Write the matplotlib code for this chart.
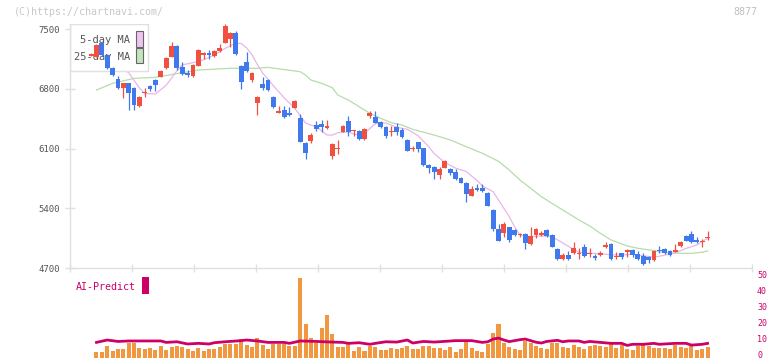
import numpy as np
import matplotlib
matplotlib.use("Agg")
import matplotlib.pyplot as plt
import matplotlib.transforms as mtransforms
from matplotlib.patches import Rectangle

plt.rcParams['font.family'] = ['DejaVu Sans Mono']

# ---- daily candles (day -1 .. 114) ----
opens = [7184, 7176, 7340, 7195, 7040, 6910, 6813, 6864, 6805, 6600, 6752, 6833, 6903, 6941, 7040, 7176,
         7301, 7058, 6980, 6950, 7070, 7192, 7215, 7183, 7242, 7340, 7379, 7457, 7066, 7117, 6903, 6637,
         6856, 6903, 6707, 6520, 6551, 6520, 6578, 6461, 6168, 6192, 6375, 6387, 6344, 6016, 6090, 6297,
         6422, 6305, 6309, 6211, 6481, 6465, 6414, 6356, 6293, 6356, 6317, 6200, 6090, 6172, 6102, 5907,
         5888, 5790, 5876, 5860, 5829, 5758, 5700, 5547, 5641, 5641, 5582, 5380, 5157, 5107, 5177, 5146,
         5091, 5099, 4981, 5087, 5087, 5146, 5087, 4923, 4806, 4853, 4872, 4868, 4950, 4868, 4837, 4853,
         4943, 4981, 4829, 4872, 4892, 4911, 4861, 4841, 4833, 4794, 4907, 4919, 4900, 4892, 4962, 5075,
         5099, 5028, 5001, 5056]
closes = [7204, 7313, 7195, 7040, 6960, 6805, 6864, 6747, 6610, 6700, 6760, 6794, 6844, 7008, 7157, 7301,
          7040, 6973, 6965, 7078, 7254, 7223, 7192, 7242, 7274, 7535, 7457, 7203, 6883, 7008, 6988, 6707,
          6813, 6785, 6590, 6539, 6473, 6492, 6657, 6180, 6044, 6258, 6329, 6355, 6364, 6153, 6098, 6367,
          6297, 6313, 6211, 6328, 6520, 6403, 6348, 6250, 6301, 6297, 6238, 6075, 6098, 6090, 5907, 5876,
          5822, 5860, 5954, 5817, 5743, 5700, 5567, 5626, 5614, 5602, 5430, 5157, 5020, 5216, 5028, 5087,
          5099, 4990, 5075, 5157, 5114, 5075, 4950, 4806, 4853, 4806, 4939, 4876, 4841, 4876, 4814, 4880,
          4970, 4806, 4837, 4825, 4911, 4853, 4806, 4747, 4794, 4900, 4899, 4872, 4853, 4911, 5009, 5020,
          5001, 5001, 5017, 5064]
highs = [7215, 7325, 7350, 7205, 7050, 6950, 6870, 6870, 6815, 6710, 6805, 6850, 6910, 7020, 7170, 7351,
         7310, 7117, 7020, 7085, 7262, 7230, 7250, 7260, 7325, 7559, 7470, 7480, 7080, 7234, 6995, 6720,
         6941, 6910, 6715, 6598, 6598, 6590, 6665, 6504, 6175, 6278, 6420, 6434, 6434, 6168, 6200, 6375,
         6481, 6320, 6318, 6335, 6539, 6539, 6420, 6362, 6360, 6400, 6340, 6208, 6130, 6180, 6110, 5915,
         5895, 5880, 5962, 5868, 5860, 5766, 5708, 5660, 5680, 5680, 5590, 5388, 5210, 5243, 5185, 5160,
         5110, 5107, 5177, 5170, 5130, 5160, 5095, 4931, 4880, 4903, 5000, 4930, 4980, 4930, 4860, 4900,
         5010, 4989, 4890, 4880, 4918, 4918, 4900, 4870, 4840, 4908, 4960, 4930, 4908, 4981, 5020, 5083,
         5130, 5060, 5040, 5134]
lows = [7180, 7168, 7187, 7032, 6950, 6797, 6688, 6551, 6551, 6592, 6700, 6770, 6770, 6933, 7032, 7168,
        7020, 6965, 6940, 6942, 7062, 7145, 7145, 7175, 7234, 7332, 7285, 7195, 6794, 7000, 6880, 6493,
        6780, 6777, 6570, 6512, 6460, 6480, 6570, 6172, 5973, 6168, 6310, 6297, 6330, 5973, 6032, 6289,
        6246, 6250, 6203, 6203, 6461, 6395, 6340, 6227, 6250, 6260, 6220, 6067, 6070, 6060, 5899, 5809,
        5743, 5743, 5868, 5790, 5735, 5692, 5477, 5539, 5600, 5590, 5422, 5135, 5012, 5060, 5010, 5075,
        5060, 4923, 4970, 5050, 5070, 5067, 4942, 4790, 4790, 4798, 4860, 4810, 4833, 4825, 4790, 4845,
        4935, 4798, 4810, 4800, 4825, 4830, 4798, 4739, 4760, 4780, 4870, 4860, 4845, 4884, 4950, 5012,
        4993, 4993, 4950, 5030]

# ---- moving averages (day index, price) ----
ma5_day = [0, 3, 5, 6, 8, 9, 11, 13, 15, 16, 18, 20, 22, 24, 26, 27, 28, 29, 30, 31, 33, 35, 37, 39, 40,
           41, 43, 44, 45, 47, 48, 49, 50, 52, 54, 56, 58, 60, 62, 63, 65, 67, 69, 71, 72, 74, 76, 77,
           78, 79, 81, 83, 85, 86, 88, 90, 92, 94, 96, 98, 100, 102, 104, 106, 108, 110, 112, 113, 114]
ma5 = [7250, 7120, 7030, 6990, 6810, 6745, 6740, 6840, 7010, 7080, 7106, 7140, 7195, 7274, 7335, 7330,
       7280, 7200, 7085, 6985, 6835, 6695, 6570, 6400, 6375, 6356, 6258, 6258, 6285, 6295, 6270, 6258,
       6280, 6390, 6400, 6348, 6325, 6250, 6120, 6040, 5935, 5870, 5830, 5725, 5660, 5594, 5400, 5302,
       5184, 5087, 5067, 5075, 5067, 5030, 4955, 4885, 4872, 4870, 4853, 4853, 4861, 4843, 4827, 4850,
       4878, 4930, 4970, 5010, 5048]
ma25_day = [0, 3, 7, 11, 16, 19, 25, 30, 32, 35, 38, 39, 40, 42, 44, 45, 47, 49, 51, 53, 55, 57, 59, 63,
            66, 69, 72, 75, 77, 79, 81, 83, 86, 88, 90, 92, 94, 96, 99, 101, 104, 106, 109, 111, 113, 114]
ma25 = [6785, 6864, 6922, 6934, 6988, 7020, 7040, 7040, 7051, 7025, 7000, 6961, 6903, 6864, 6813, 6727,
        6668, 6590, 6512, 6454, 6403, 6375, 6325, 6258, 6200, 6121, 6044, 5950, 5848, 5731, 5634, 5536,
        5418, 5341, 5263, 5193, 5107, 5028, 4958, 4931, 4903, 4880, 4872, 4872, 4885, 4900]

# ---- lower panel (day 0 .. 114) ----
volume = [3.4, 3.4, 7.2, 4.1, 5.3, 5.3, 9.1, 9.1, 6.0, 5.3,
          6.0, 4.7, 7.2, 4.7, 6.6, 7.2, 6.6, 5.3, 4.1, 6.0,
          4.1, 5.3, 5.3, 6.6, 8.5, 8.5, 8.5, 11.6, 7.9, 6.6,
          12.2, 7.9, 5.3, 8.5, 8.5, 8.5, 7.2, 7.2, 50.0, 21.0,
          12.2, 9.1, 18.5, 26.7, 14.7, 6.6, 6.6, 8.5, 4.1, 6.6,
          4.1, 7.2, 6.6, 4.7, 4.7, 6.0, 5.3, 6.0, 7.2, 5.3,
          5.3, 7.2, 7.2, 6.0, 6.0, 4.7, 6.6, 3.4, 5.3, 9.7,
          6.0, 4.1, 3.4, 8.5, 15.4, 21.0, 9.1, 6.6, 5.3, 4.7,
          10.3, 9.1, 7.2, 6.0, 5.3, 9.1, 9.1, 6.6, 6.0, 7.9,
          6.6, 5.3, 7.2, 7.9, 7.2, 6.6, 8.5, 6.0, 7.9, 5.3,
          4.7, 7.2, 7.9, 7.2, 6.0, 6.0, 6.0, 5.3, 7.9, 6.6,
          6.0, 7.2, 4.7, 5.3, 6.6]
ai_day = [0, 2, 4, 6, 12, 13, 15, 17, 19, 21, 22, 24, 27, 28, 30, 32, 35, 36, 38, 41, 44, 46, 47, 49, 51,
          52, 54, 56, 58, 59, 61, 63, 67, 70, 72, 73, 74, 75, 76, 77, 79, 80, 81, 82, 83, 84, 86, 87, 88,
          90, 91, 92, 94, 96, 98, 99, 100, 102, 104, 105, 108, 110, 111, 113, 114]
ai_predict = [9.5, 11.0, 10.1, 10.4, 10.4, 9.5, 9.9, 8.5, 8.9, 8.5, 9.3, 9.9, 10.6, 11.0, 10.4, 9.5, 9.5,
              8.9, 10.4, 10.1, 9.7, 9.5, 8.9, 9.3, 8.3, 8.9, 9.9, 9.7, 11.0, 9.1, 10.1, 9.7, 10.6, 10.6,
              9.5, 9.9, 11.6, 12.2, 11.0, 10.0, 11.2, 11.6, 10.6, 9.6, 9.1, 10.1, 10.8, 9.9, 10.4, 10.4,
              9.5, 10.1, 9.5, 8.9, 8.9, 7.6, 8.3, 8.3, 8.9, 8.3, 8.9, 8.9, 7.8, 8.3, 8.9]

date_day = [14, 24, 34, 44, 54, 64, 74, 84, 94, 104, 114]
date_labels = ['2/12', '2/27', '3/13', '3/30', '4/13', '4/27', '5/15', '5/29', '6/12', '6/26', '7/10']
price_ticks = [4700, 5400, 6100, 6800, 7500]
ai_ticks = [0, 10, 20, 30, 40, 50]

RED = '#f05040'
BLUE = '#4078ee'
GRID = '#e0e0e0'
TXT = '#555555'
MAG = '#cc0066'

W, H = 772, 361
fx = lambda x: x / W
fy = lambda y: 1 - y / H

fig = plt.figure(figsize=(W / 100, H / 100), dpi=100)
ax = fig.add_axes([fx(70), fy(268), fx(752) - fx(70), fy(24) - fy(268)])
vax = fig.add_axes([fx(70), fy(357.5), fx(752) - fx(70), fy(278) - fy(357.5)])

x0, x1 = -4.94, 122.29
ax.set_xlim(x0, x1)
ax.set_ylim(4700, 7559)

# candles
cdays = np.arange(-1, len(opens) - 1)
o = np.array(opens); c = np.array(closes)
col = np.where(c >= o, RED, BLUE)
ax.vlines(cdays, lows, highs, colors=col, lw=0.9, zorder=3)
body = np.maximum(np.abs(c - o), 12)
ax.bar(cdays, body, bottom=np.minimum(o, c), width=0.9, color=col, zorder=4)

ax.plot(ma25_day, ma25, color='#b6dcaa', lw=0.9, zorder=1)
ax.plot(ma5_day, ma5, color='#e8b6e8', lw=0.9, zorder=1)

# legend (sits under the candles)
ax.add_patch(Rectangle((fx(70), fy(71)), fx(148) - fx(70), fy(24) - fy(71), transform=fig.transFigure,
                       facecolor='white', edgecolor=GRID, lw=1, zorder=2))
ax.text(fx(130), fy(40), '5-day MA', transform=fig.transFigure, ha='right', va='center',
        fontsize=7.5, color=TXT, zorder=2.5)
ax.text(fx(130), fy(57), '25-day MA', transform=fig.transFigure, ha='right', va='center',
        fontsize=7.5, color=TXT, zorder=2.5)
ax.add_patch(Rectangle((fx(136), fy(47)), fx(143) - fx(136), fy(31) - fy(47), transform=fig.transFigure,
                       facecolor='#f0c4f0', edgecolor='#666666', lw=0.8, zorder=2.5))
ax.add_patch(Rectangle((fx(136), fy(63)), fx(143) - fx(136), fy(48) - fy(63), transform=fig.transFigure,
                       facecolor='#c4e4bc', edgecolor='#666666', lw=0.8, zorder=2.5))

for s in ['top', 'right']:
    ax.spines[s].set_visible(False)
for s in ['left', 'bottom']:
    ax.spines[s].set_color(GRID)
    ax.spines[s].set_linewidth(1)
ax.set_yticks(price_ticks)
ax.set_yticklabels([str(v) for v in price_ticks])
ax.tick_params(axis='y', direction='inout', length=7, width=1, color=GRID, labelcolor=TXT,
               labelsize=6.5, pad=4)
ax.set_xticks(np.linspace(x0, x1, 12))
ax.set_xticklabels([])
ax.tick_params(axis='x', which='major', direction='inout', length=6, width=1, color=GRID)
ax.set_xticks(date_day, minor=True)
ax.set_xticklabels(date_labels, minor=True)
ax.tick_params(axis='x', which='minor', length=0, pad=8, labelsize=6.5, labelcolor=TXT)

# lower panel
vdays = np.arange(len(volume))
vax.bar(vdays, volume, width=0.75, color='#f0973f', zorder=1)
vax.plot(ai_day, ai_predict, color=MAG, lw=2.0, zorder=2)
vax.set_xlim(x0, x1)
vax.set_ylim(0, 50)
for s in vax.spines.values():
    s.set_visible(False)
vax.set_xticks([])
vax.set_yticks([])

# right-hand scale, nudged up a little so the bottom "0" stays inside the image
lab_tr = mtransforms.offset_copy(vax.get_yaxis_transform(), fig=fig, x=5, y=2.5, units='dots')
for v in ai_ticks:
    vax.text(1, v, str(v), transform=lab_tr, ha='left', va='center', fontsize=6, color=MAG,
             clip_on=False)

fig.text(fx(76), fy(286.5), 'AI-Predict', color=MAG, fontsize=7.2, va='center', ha='left')
fig.patches.append(Rectangle((fx(142), fy(294)), fx(149) - fx(142), fy(277) - fy(294),
                             transform=fig.transFigure, facecolor=MAG, edgecolor='none', figure=fig))

fig.text(fx(14), fy(12), '(C)https://chartnavi.com/', color='#c8c8c8', fontsize=7.2, va='center', ha='left')
fig.text(fx(757), fy(12), '8877', color='#c0c0c0', fontsize=7.2, va='center', ha='right')

fig.savefig('out.png', dpi=100)
